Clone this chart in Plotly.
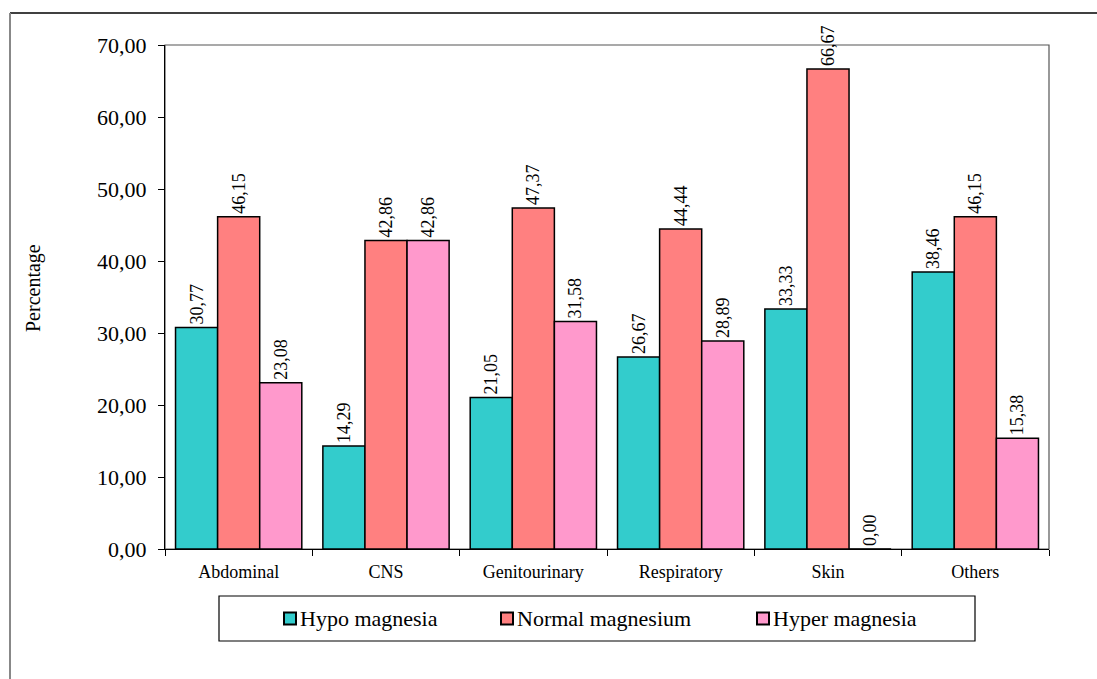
import plotly.graph_objects as go

# Infection site categories and magnesium status percentages
categories = ["Abdominal", "CNS", "Genitourinary", "Respiratory", "Skin", "Others"]
hypo = [30.77, 14.29, 21.05, 26.67, 33.33, 38.46]
normal = [46.15, 42.86, 47.37, 44.44, 66.67, 46.15]
hyper = [23.08, 42.86, 31.58, 28.89, 0.00, 15.38]

series_names = ["Hypo magnesia", "Normal magnesium", "Hyper magnesia"]
series_colors = ["#33CCCC", "#FF8080", "#FF99CC"]
y_ticks = [0, 10, 20, 30, 40, 50, 60, 70]

FONT = "Liberation Serif"

W, H = 1097, 679
ML, MR, MT, MB = 165, 48, 45, 130
PW = W - ML - MR
PH = H - MT - MB


def px_x(x):
    return (x - ML) / PW


def px_y(y):
    return (H - MB - y) / PH


fig = go.Figure()
for name, vals, col in zip(series_names, [hypo, normal, hyper], series_colors):
    fig.add_trace(go.Bar(
        name=name,
        x=categories,
        y=vals,
        marker=dict(color=col, line=dict(color="black", width=1.5)),
        texttemplate="%{y:.2f}",
        textposition="outside",
        textangle=-90,
        textfont=dict(family=FONT, size=18, color="black"),
        cliponaxis=False,
        constraintext="none",
        showlegend=False,
    ))

# Plot-area frame
fig.add_shape(type="rect", xref="paper", yref="paper", x0=0, x1=1, y0=0, y1=1,
              line=dict(color="#555555", width=1.2), layer="below")
# Outer chart frame (top and left edges)
fig.add_shape(type="line", xref="paper", yref="paper",
              x0=px_x(10), x1=px_x(W + 5), y0=px_y(13), y1=px_y(13),
              line=dict(color="black", width=1.5))
fig.add_shape(type="line", xref="paper", yref="paper",
              x0=px_x(10), x1=px_x(10), y0=px_y(13), y1=px_y(H + 5),
              line=dict(color="#888888", width=2))

# Legend box with a key square and label per series
fig.add_shape(type="rect", xref="paper", yref="paper",
              x0=px_x(219), x1=px_x(975), y0=px_y(596), y1=px_y(641),
              line=dict(color="black", width=1.2))
key_centers = [290, 507, 763]
key_y = 618.5
for name, col, kx in zip(series_names, series_colors, key_centers):
    fig.add_shape(type="rect", xref="paper", yref="paper",
                  x0=px_x(kx - 6), x1=px_x(kx + 6),
                  y0=px_y(key_y - 6), y1=px_y(key_y + 6),
                  fillcolor=col, line=dict(color="black", width=2))
    fig.add_annotation(text=name, xref="paper", yref="paper",
                       x=px_x(kx + 8), y=px_y(key_y), xanchor="left", yanchor="middle",
                       showarrow=False,
                       font=dict(family=FONT, size=22, color="black"))

# Y-axis title
fig.add_annotation(text="Percentage", xref="paper", yref="paper",
                   x=px_x(33), y=px_y(288), xanchor="center", yanchor="middle",
                   textangle=-90, showarrow=False,
                   font=dict(family=FONT, size=20, color="black"))

fig.update_layout(
    width=W, height=H,
    margin=dict(l=ML, r=MR, t=MT, b=MB, autoexpand=False),
    paper_bgcolor="white", plot_bgcolor="white",
    separators=",.",
    barmode="group",
    bargap=0.143,
    bargroupgap=0,
    font=dict(family=FONT, color="black"),
    showlegend=False,
    xaxis=dict(
        showline=True, linecolor="black", linewidth=1.2,
        ticks="outside", ticklen=6, tickcolor="black",
        tickson="boundaries",
        ticklabelstandoff=6,
        tickfont=dict(family=FONT, size=18, color="black"),
        showgrid=False, zeroline=False,
    ),
    yaxis=dict(
        range=[0, 70],
        tickvals=y_ticks, tickformat=".2f",
        showline=True, linecolor="black", linewidth=1.2,
        ticks="outside", ticklen=6, tickcolor="black",
        ticklabelstandoff=7,
        tickfont=dict(family=FONT, size=22, color="black"),
        showgrid=False, zeroline=False,
    ),
)

fig.write_html("out.html")
